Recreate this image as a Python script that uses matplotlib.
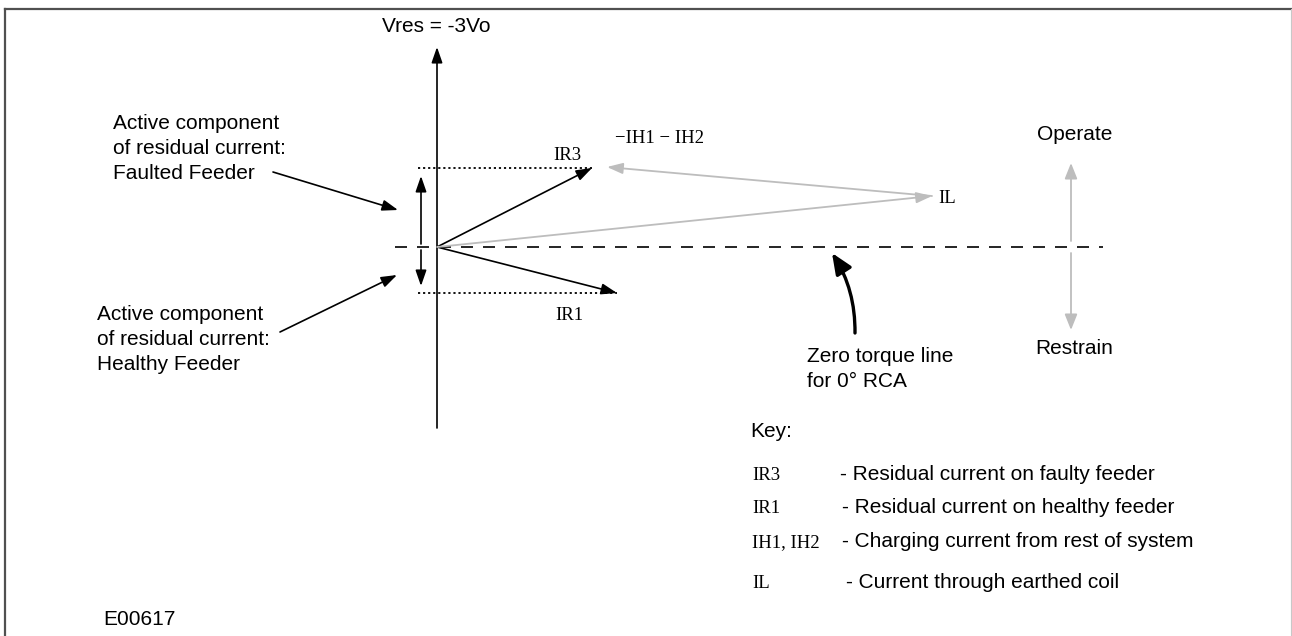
import matplotlib
matplotlib.use('Agg')
import matplotlib.pyplot as plt

# Phasors measured from the origin (diagram units = pixels, y up)
phasor_names = ['IR3', 'IR1', 'IL']
phasor_x = [155, 180, 495]
phasor_y = [79, -46, 51]

# -IH1 - IH2 runs from the tip of IL back towards IR3
ih_tip = [170, 80]
ih_label = '\u2212IH1 \u2212 IH2'

vres_label = 'Vres = -3Vo'
faulted_lines = ['Active component', 'of residual current:', 'Faulted Feeder']
healthy_lines = ['Active component', 'of residual current:', 'Healthy Feeder']
torque_lines = ['Zero torque line', 'for 0\u00b0 RCA']

key_symbols = ['IR3', 'IR1', 'IH1, IH2', 'IL']
key_texts = ['- Residual current on faulty feeder',
             '- Residual current on healthy feeder',
             '- Charging current from rest of system',
             '- Current through earthed coil']
figure_code = 'E00617'

SANS = ['Liberation Sans', 'DejaVu Sans']
SERIF = ['Liberation Serif', 'DejaVu Serif']
FS = 15
FS_SERIF = 13.5
GREY = '#bdbdbd'


def arrow(ax, tail, tip, color='black', lw=1.2, hl=0.95, hw=0.33, ms=10, rad=None):
    props = dict(arrowstyle='-|>,head_length={},head_width={}'.format(hl, hw),
                 color=color, lw=lw, mutation_scale=ms, shrinkA=0, shrinkB=0)
    if rad is not None:
        props['connectionstyle'] = 'arc3,rad={}'.format(rad)
    ax.annotate('', xy=tip, xytext=tail, arrowprops=props)


fig = plt.figure(figsize=(12.92, 6.36), dpi=100)
ax = fig.add_axes([0, 0, 1, 1])
ax.set_xlim(-437, 855)
ax.set_ylim(-389, 247)
ax.axis('off')

# frame
ax.plot([-432, -432], [-389, 238], color='#505050', lw=1.6, clip_on=False)
ax.plot([-432, 855], [238, 238], color='#505050', lw=1.6, clip_on=False)
ax.plot([854, 854], [-389, 238], color='#c8c8c8', lw=0.8, clip_on=False)

# Vres axis
arrow(ax, (0, -181), (0, 200), lw=1.2)
ax.text(-55, 215, vres_label, family=SANS, fontsize=FS, va='baseline')

# zero torque line
ax.plot([-42, 666], [0, 0], color='black', lw=1.2, dashes=[7.2, 6])

# dotted projections of IR3 and IR1
for i in range(2):
    ax.plot([-19, phasor_x[i]], [phasor_y[i], phasor_y[i]], color='black',
            lw=1.3, linestyle=(0, (1.2, 1.6)))

# phasors
arrow(ax, (0, 0), (phasor_x[0], phasor_y[0]))
arrow(ax, (0, 0), (phasor_x[1], phasor_y[1]))
arrow(ax, (0, 0), (phasor_x[2], phasor_y[2]), color=GREY, lw=1.3)
arrow(ax, (phasor_x[2], phasor_y[2]), ih_tip, color=GREY, lw=1.3)

ax.text(116, 87, phasor_names[0], family=SERIF, fontsize=FS_SERIF, va='baseline')
ax.text(118, -73, phasor_names[1], family=SERIF, fontsize=FS_SERIF, va='baseline')
ax.text(501, 44, phasor_names[2], family=SERIF, fontsize=FS_SERIF, va='baseline')
ax.text(178, 104, ih_label, family=SERIF, fontsize=FS_SERIF, va='baseline')

# active component double arrow (broken where the dashed line crosses)
arrow(ax, (-16, 3), (-16, 71))
arrow(ax, (-16, -3), (-16, -39))

# callouts on the left
for i, line in enumerate(faulted_lines):
    ax.text(-324, 118 - 25 * i, line, family=SANS, fontsize=FS, va='baseline')
arrow(ax, (-164, 75), (-39, 37))
for i, line in enumerate(healthy_lines):
    ax.text(-340, -73 - 25 * i, line, family=SANS, fontsize=FS, va='baseline')
arrow(ax, (-157, -85), (-40, -28))

# zero torque callout
arrow(ax, (418, -86), (395, -6), lw=2.4, hl=0.7, hw=0.3, ms=18, rad=0.15)
for i, line in enumerate(torque_lines):
    ax.text(370, -115 - 25 * i, line, family=SANS, fontsize=FS, va='baseline')

# operate / restrain
arrow(ax, (634, 6), (634, 84), color=GREY, lw=1.3, hw=0.38)
arrow(ax, (634, -6), (634, -83), color=GREY, lw=1.3, hw=0.38)
ax.text(638, 107, 'Operate', family=SANS, fontsize=FS, va='baseline', ha='center')
ax.text(637, -107, 'Restrain', family=SANS, fontsize=FS, va='baseline', ha='center')

# key
ax.text(313, -190, 'Key:', family=SANS, fontsize=FS, va='baseline')
key_y = [-233, -266, -300, -341]
desc_x = [403, 405, 405, 409]
for sym, txt, y, dx in zip(key_symbols, key_texts, key_y, desc_x):
    ax.text(315, y, sym, family=SERIF, fontsize=FS_SERIF, va='baseline')
    ax.text(dx, y, txt, family=SANS, fontsize=FS, va='baseline')

ax.text(-334, -378, figure_code, family=SANS, fontsize=FS, va='baseline')

fig.savefig('out.png', dpi=100)
